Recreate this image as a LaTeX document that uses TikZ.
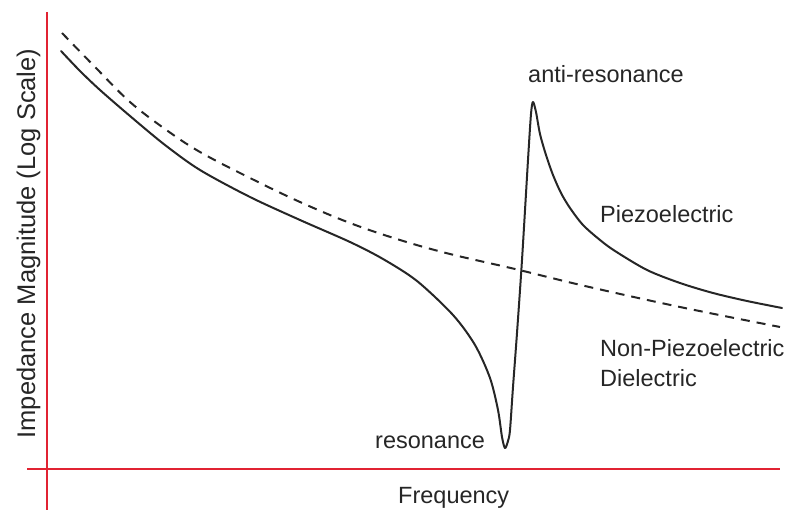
\documentclass[tikz,border=0pt]{standalone}
\usepackage{fontspec}
\setmainfont{Liberation Sans}
\definecolor{axisred}{RGB}{225,35,50}
\tikzset{
  axisline/.style={draw=axisred, line width=2pt},
  curveline/.style={draw=black!85, line width=2pt, line join=round, line cap=round},
  dashline/.style={draw=black!85, line width=2pt, dash pattern=on 9pt off 7pt},
  lbl/.style={inner sep=0pt, font=\fontsize{23.5}{30}\selectfont, text=black!85},
}
\begin{document}
\begin{tikzpicture}[x=1pt,y=-1pt]
\useasboundingbox (0,0) rectangle (788,513);
% axes
\coordinate (ytop) at (47,12);
\coordinate (ybot) at (47,510);
\coordinate (xleft) at (27,469);
\coordinate (xright) at (780,469);
\draw[axisline] (ytop) -- (ybot);
\draw[axisline] (xleft) -- (xright);
% non-piezoelectric (dashed)
\draw[dashline] plot[smooth, tension=0.6] coordinates {
  (62,33) (96,68) (130,102) (165,129) (200,152) (250,178) (300,202) (350,223) (400,240) (450,254) (515,269) (585,286) (680,307) (780,327)};
% piezoelectric (solid)
\draw[curveline] plot[smooth, tension=0.5] coordinates {
  (61,51) (80,71) (100,90) (130,116) (165,145) (200,170) (250,197) (300,220) (350,242) (383,259) (417,281) (453,315) (475,345) (490,378) (498,410) (502,437) (505,448) (508,441) (510,430) (513,387) (517,333) (522,260) (528,160) (531,114) (533,102) (536,112) (540,134) (546,155) (553,175) (561,193) (570,208) (583,225) (600,240) (615,251) (647,270) (680,283) (713,293) (747,301) (782,308)};
% labels
\node[lbl, anchor=base west] (anti) at (528,83) {anti-resonance};
\node[lbl, anchor=base west] (piezo) at (600,223) {Piezoelectric};
\node[lbl, anchor=base west] (nonpiezo) at (600,357) {Non-Piezoelectric};
\node[lbl, anchor=base west] (diel) at (600,387) {Dielectric};
\node[lbl, anchor=base west] (reso) at (375,448) {resonance};
\node[lbl, anchor=base west] (freq) at (398,503) {Frequency};
\node[lbl, rotate=90, anchor=base, font=\fontsize{25.5}{30}\selectfont] (ylab) at (35,243.5) {Impedance Magnitude (Log Scale)};
\end{tikzpicture}
\end{document}
